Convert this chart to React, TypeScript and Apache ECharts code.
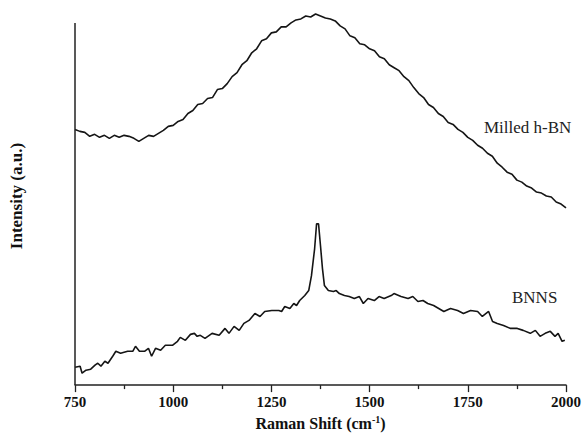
import React, { useEffect, useRef } from "react";
import * as echarts from "echarts";

// Raman shift (cm^-1) / intensity (a.u.) pairs
const milledShift = [
  750, 762.5, 775, 787.5, 800, 812.5, 825, 837.5, 850, 862.5, 875, 887.5, 900, 912.5, 925, 937.5, 950, 962.5, 975, 987.5,
  1000, 1012.5, 1025, 1037.5, 1050, 1062.5, 1075, 1087.5, 1100, 1112.5, 1125, 1137.5, 1150, 1162.5, 1175, 1187.5, 1200, 1212.5, 1225, 1237.5,
  1250, 1262.5, 1275, 1287.5, 1300, 1312.5, 1325, 1337.5, 1350, 1362.5, 1375, 1387.5, 1400, 1412.5, 1425, 1437.5, 1450, 1462.5, 1475, 1487.5,
  1500, 1512.5, 1525, 1537.5, 1550, 1562.5, 1575, 1587.5, 1600, 1612.5, 1625, 1637.5, 1650, 1662.5, 1675, 1687.5, 1700, 1712.5, 1725, 1737.5,
  1750, 1762.5, 1775, 1787.5, 1800, 1812.5, 1825, 1837.5, 1850, 1862.5, 1875, 1887.5, 1900, 1912.5, 1925, 1937.5, 1950, 1962.5, 1975, 1987.5, 2000,
];
const milledIntensity = [
  257, 255, 254, 250, 252, 249, 251, 248, 251, 249, 251, 250, 248, 245, 248, 251, 250, 253, 256, 260,
  261, 265, 267, 273, 276, 282, 283, 288, 289, 297, 298, 303, 310, 314, 322, 326, 334, 338, 346, 348,
  354, 355, 360, 360, 364, 367, 368, 371, 370, 373, 371, 369, 368, 366, 361, 358, 351, 349, 343, 342,
  338, 336, 330, 328, 322, 319, 316, 310, 306, 299, 293, 289, 282, 279, 273, 270, 264, 262, 257, 254,
  249, 246, 241, 238, 233, 230, 223, 219, 214, 212, 206, 204, 200, 198, 194, 193, 190, 189, 184, 182, 178,
];

const bnnsShift = [
  750, 763, 768, 778, 790, 801, 808, 816, 826, 834, 846, 854, 866, 884, 897, 904, 914, 927, 937, 945,
  955, 968, 980, 998, 1011, 1018, 1031, 1044, 1054, 1061, 1069, 1081, 1099, 1117, 1132, 1142, 1155, 1168, 1180, 1193,
  1208, 1221, 1233, 1251, 1269, 1276, 1284, 1297, 1307, 1314, 1322, 1335, 1345, 1352, 1360, 1365, 1370, 1375, 1380, 1385,
  1395, 1408, 1415, 1423, 1436, 1448, 1461, 1474, 1484, 1496, 1512, 1524, 1537, 1555, 1562, 1580, 1598, 1610, 1623, 1636,
  1648, 1663, 1676, 1689, 1706, 1724, 1739, 1757, 1775, 1787, 1803, 1813, 1825, 1841, 1858, 1876, 1891, 1909, 1922, 1934,
  1947, 1960, 1972, 1980, 1990, 1997,
];
const bnnsIntensity = [
  18, 19, 12, 15, 16, 20, 22, 19, 24, 22, 29, 34, 32, 34, 34, 39, 34, 34, 37, 29,
  37, 35, 40, 40, 44, 48, 45, 51, 52, 49, 50, 47, 52, 50, 57, 52, 59, 55, 62, 65,
  72, 69, 74, 75, 75, 74, 79, 77, 82, 80, 85, 90, 95, 110, 137, 162, 162, 140, 117, 100,
  95, 94, 95, 92, 90, 89, 87, 89, 82, 87, 85, 89, 87, 90, 92, 89, 87, 89, 84, 85,
  82, 80, 77, 74, 77, 75, 72, 75, 74, 69, 74, 64, 62, 60, 57, 57, 55, 52, 55, 49,
  52, 54, 49, 52, 44, 45,
];

const xTicks = { min: 750, max: 2000, interval: 250 };
const yRange = { min: 0, max: 380, axisTop: 364 };
const seriesNames = ["Milled h-BN", "BNNS"];

export default function App() {
  const ref = useRef<HTMLDivElement>(null);
  useEffect(() => {
    if (!ref.current) return;
    const chart = echarts.init(ref.current, null, { renderer: "svg" });
    const serif = "Liberation Serif";
    const lineColor = "#151515";
    chart.setOption({
      animation: false,
      backgroundColor: "#ffffff",
      grid: { left: 72, right: 18, top: 7, bottom: 49 },
      xAxis: {
        type: "value",
        min: xTicks.min,
        max: xTicks.max,
        interval: xTicks.interval,
        axisLine: { show: true, lineStyle: { color: "#222", width: 1.5 } },
        axisTick: { show: true, inside: false, length: 7, lineStyle: { color: "#222", width: 1.3 } },
        minorTick: { show: true, splitNumber: 2, length: 4, lineStyle: { color: "#222", width: 1.3 } },
        splitLine: { show: false },
        axisLabel: {
          color: "#111",
          fontFamily: serif,
          fontWeight: "bold",
          fontSize: 15,
          margin: 9,
          formatter: (v: number) => String(v),
        },
        name: "{a|Raman Shift (cm}{s|-1}{a|)}",
        nameLocation: "middle",
        nameGap: 26,
        nameTextStyle: {
          fontFamily: serif,
          rich: {
            a: { fontFamily: serif, fontWeight: "bold", fontSize: 16, color: "#111" },
            s: { fontFamily: serif, fontWeight: "bold", fontSize: 10, color: "#111", verticalAlign: "top", padding: [0, 0, 8, 0] },
          },
        },
      },
      yAxis: {
        type: "value",
        min: yRange.min,
        max: yRange.max,
        axisLine: { show: false },
        axisTick: { show: false },
        axisLabel: { show: false },
        splitLine: { show: false },
        name: "Intensity (a.u.)",
        nameLocation: "middle",
        nameGap: 50,
        nameTextStyle: { fontFamily: serif, fontWeight: "bold", fontSize: 17, color: "#111" },
      },
      series: [
        {
          name: seriesNames[0],
          type: "line",
          data: milledShift.map((x, i) => [x, milledIntensity[i]]),
          showSymbol: false,
          symbol: "none",
          lineStyle: { color: lineColor, width: 1.6 },
          markLine: {
            silent: true,
            symbol: ["none", "none"],
            label: { show: false },
            lineStyle: { color: "#222", width: 1.5, type: "solid" },
            data: [[{ coord: [xTicks.min, yRange.min] }, { coord: [xTicks.min, yRange.axisTop] }]],
          },
        },
        {
          name: seriesNames[1],
          type: "line",
          data: bnnsShift.map((x, i) => [x, bnnsIntensity[i]]),
          showSymbol: false,
          symbol: "none",
          lineStyle: { color: lineColor, width: 1.6 },
        },
      ],
      graphic: [
        {
          type: "text",
          left: 484,
          top: 119,
          style: { text: seriesNames[0], fontFamily: serif, fontSize: 17, fill: "#222" },
        },
        {
          type: "text",
          left: 512,
          top: 289,
          style: { text: seriesNames[1], fontFamily: serif, fontSize: 17, fill: "#222" },
        },
      ],
    });
    return () => chart.dispose();
  }, []);
  return <div ref={ref} style={{ position: "fixed", left: 0, top: 0, width: 584, height: 436 }} />;
}
